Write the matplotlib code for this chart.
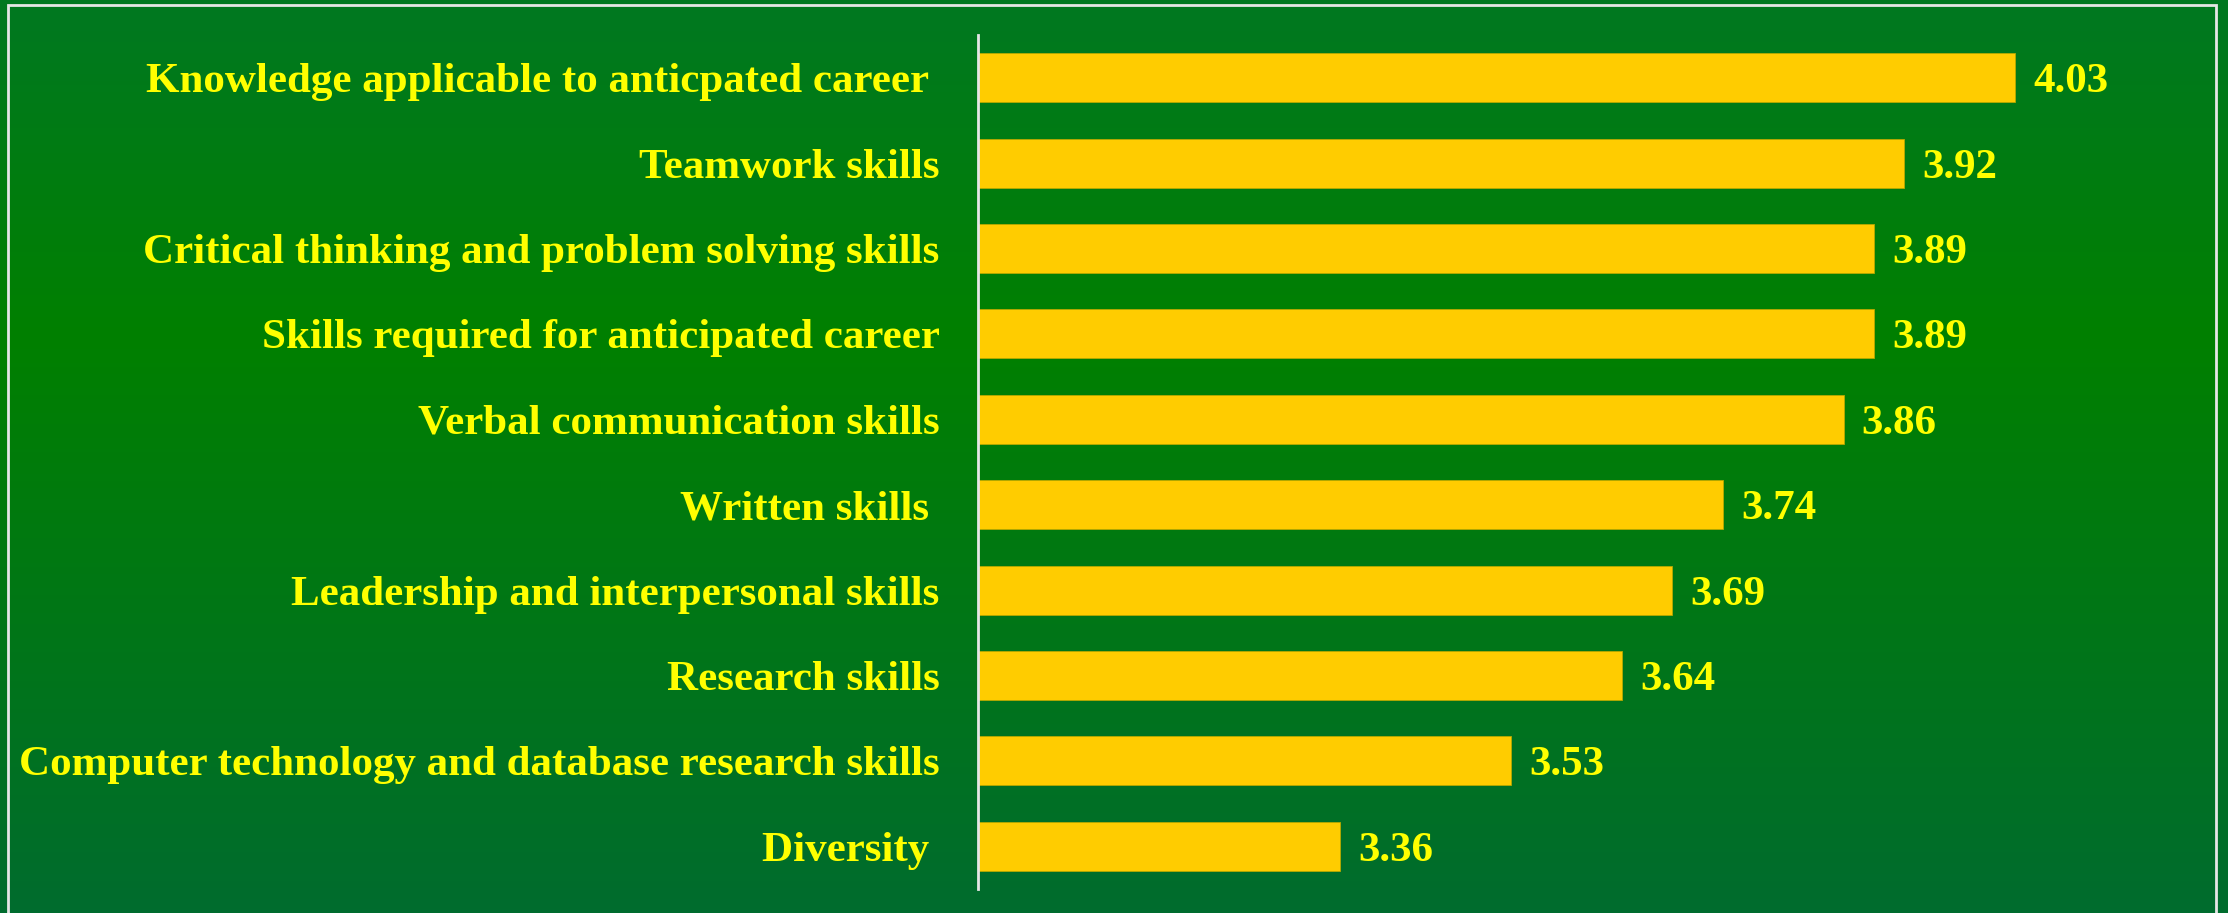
import numpy as np
import matplotlib.pyplot as plt
from matplotlib.colors import LinearSegmentedColormap

# survey ratings, top to bottom as in the chart
skills = [
    "Knowledge applicable to anticpated career ",
    "Teamwork skills",
    "Critical thinking and problem solving skills",
    "Skills required for anticipated career",
    "Verbal communication skills",
    "Written skills ",
    "Leadership and interpersonal skills",
    "Research skills",
    "Computer technology and database research skills",
    "Diversity ",
]
ratings = [4.03, 3.92, 3.89, 3.89, 3.86, 3.74, 3.69, 3.64, 3.53, 3.36]

W, H, DPI = 2228, 913, 100
fig = plt.figure(figsize=(W / DPI, H / DPI), dpi=DPI)

# background gradient
bg = fig.add_axes([0, 0, 1, 1], zorder=-1)
cmap = LinearSegmentedColormap.from_list(
    "bg", [(0.0, "#007821"), (0.37, "#008000"), (1.0, "#006C2E")])
grad = np.linspace(0, 1, 256).reshape(-1, 1)
bg.imshow(grad, aspect="auto", cmap=cmap, extent=[0, 1, 0, 1], origin="upper")
bg.plot([8 / W, 8 / W, 2216 / W, 2216 / W], [0, 1 - 5 / H, 1 - 5 / H, 0],
        color="#E6E6E6", lw=2, solid_joinstyle="miter")
bg.set_xlim(0, 1)
bg.set_ylim(0, 1)
bg.axis("off")

left = 977.5 / W
right = 2186 / W
bottom = 1 - 889 / H
top = 1 - 35 / H
ax = fig.add_axes([left, bottom, right - left, top - bottom])
ax.patch.set_alpha(0)

y = np.arange(len(skills))
ax.barh(y, np.array(ratings) - 3.0, left=3.0, height=0.575,
        color="#FFCC00", edgecolor="#B8A800", linewidth=0.6)
ax.set_xlim(3.0, 4.2)
ax.set_ylim(len(skills) - 0.5, -0.5)

font = dict(family="Liberation Serif", weight="bold", size=31, color="#FFFF00")
base = 0.17  # baseline offset below bar centre, in category units
for yi, v in zip(y, ratings):
    ax.text(v + 0.018, yi + base, f"{v:.2f}", va="baseline", ha="left", **font)

lab_x = -38 / (W * (right - left))
for yi, name in zip(y, skills):
    ax.text(lab_x, yi + base, name, va="baseline", ha="right",
            transform=ax.get_yaxis_transform(), **font)

ax.set_yticks([])
ax.set_xticks([])
for s in ["top", "right", "bottom"]:
    ax.spines[s].set_visible(False)
ax.spines["left"].set_color("#E6E6E6")
ax.spines["left"].set_linewidth(2)

fig.savefig("out.png", dpi=DPI)
